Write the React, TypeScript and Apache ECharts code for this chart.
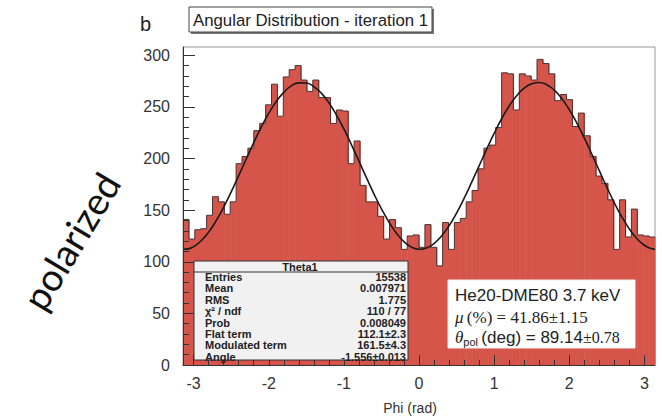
import React, { useEffect, useRef } from "react";
import * as echarts from "echarts";

// Histogram: 80 bins over [-pi, pi]
const binCounts = [
  141, 122, 131, 132, 145, 163, 158, 146, 158, 195,
  202, 210, 227, 234, 252, 272, 241, 279, 286, 290,
  276, 265, 276, 259, 259, 234, 247, 246, 195, 217,
  174, 158, 158, 144, 122, 141, 133, 112, 125, 126,
  114, 136, 114, 96, 138, 112, 138, 142, 158, 169,
  190, 210, 213, 230, 283, 282, 247, 282, 280, 276,
  296, 292, 282, 256, 262, 257, 231, 244, 222, 202,
  183, 176, 160, 112, 160, 124, 151, 126, 125, 124,
];
const histMin = -Math.PI;
const histMax = Math.PI;

// Fit curve
const fitPhi = [
  -3.1416, -3.1, -3.0, -2.9, -2.8, -2.7, -2.6, -2.5, -2.4, -2.3, -2.2, -2.1, -2.0,
  -1.9, -1.8, -1.7, -1.6, -1.5, -1.4, -1.3, -1.2, -1.1, -1.0, -0.9, -0.8, -0.7,
  -0.6, -0.5, -0.4, -0.3, -0.2, -0.1, 0.0, 0.1, 0.2, 0.3, 0.4, 0.5, 0.6, 0.7,
  0.8, 0.9, 1.0, 1.1, 1.2, 1.3, 1.4, 1.5, 1.6, 1.7, 1.8, 1.9, 2.0, 2.1, 2.2,
  2.3, 2.4, 2.5, 2.6, 2.7, 2.8, 2.9, 3.0, 3.1, 3.1416,
];
const fitValues = [
  112.1, 112.2, 114.7, 120.3, 128.7, 139.8, 152.9, 167.7, 183.4, 199.5, 215.4, 230.3, 243.9,
  255.3, 264.1, 270.4, 273.3, 273.1, 269.7, 263.3, 254.0, 242.3, 228.6, 213.5, 197.6, 181.5,
  165.8, 151.3, 138.4, 127.6, 119.5, 114.2, 112.1, 113.3, 117.6, 124.9, 134.9, 147.2, 161.4, 176.8,
  192.8, 208.9, 224.3, 238.5, 250.8, 260.8, 268.1, 272.4, 273.6, 271.5, 266.3, 258.2, 247.4, 234.6, 219.9,
  204.3, 188.2, 172.3, 157.1, 143.5, 131.8, 122.5, 116.0, 112.6, 112.1,
];

const xTickLabels = [-3, -2, -1, 0, 1, 2, 3];
const xMinorTicks = [
  -3.0, -2.8, -2.6, -2.4, -2.2, -2.0, -1.8, -1.6, -1.4, -1.2, -1.0, -0.8, -0.6, -0.4, -0.2,
  0.0, 0.2, 0.4, 0.6, 0.8, 1.0, 1.2, 1.4, 1.6, 1.8, 2.0, 2.2, 2.4, 2.6, 2.8, 3.0,
];
const yTickLabels = [0, 50, 100, 150, 200, 250, 300];
const yMinorTicks = [
  0, 10, 20, 30, 40, 50, 60, 70, 80, 90, 100, 110, 120, 130, 140, 150, 160, 170, 180, 190,
  200, 210, 220, 230, 240, 250, 260, 270, 280, 290, 300,
];
const yMax = 308;

const statsTitle = "Theta1";
const statsLabels = ["Entries", "Mean", "RMS", "χ² / ndf", "Prob", "Flat term", "Modulated term", "Angle"];
const statsValues = ["15538", "0.007971", "1.775", "110 / 77", "0.008049", "112.1±2.3", "161.5±4.3", "-1.556±0.013"];

const RED = "#D6554B";
const SANS = "'Liberation Sans', Arial, Helvetica, sans-serif";
const SERIF = "'Liberation Serif', 'Times New Roman', serif";

export default function App() {
  const ref = useRef<HTMLDivElement>(null);

  useEffect(() => {
    if (!ref.current) return;
    const chart = echarts.init(ref.current, undefined, { renderer: "svg" });
    const n = binCounts.length;
    const w = (histMax - histMin) / n;
    const bins = binCounts.map((c, i) => [histMin + i * w, histMin + (i + 1) * w, c]);
    const outline: number[][] = binCounts.map((c, i) => [histMin + i * w, c]);
    outline.push([histMax, binCounts[n - 1]]);
    const fit = fitPhi.map((p, i) => [p, fitValues[i]]);

    const graphics: any[] = [
      {
        type: "text",
        z: 50,
        x: 140,
        y: 24,
        style: { text: "b", font: `20px ${SANS}`, fill: "#222", verticalAlign: "middle" },
      },
      {
        type: "rect",
        z: 50,
        shape: { x: 191, y: 9, width: 243, height: 25 },
        style: { fill: "#777" },
      },
      {
        type: "rect",
        z: 51,
        shape: { x: 189, y: 7, width: 243, height: 25 },
        style: { fill: "#fff", stroke: "#444", lineWidth: 1 },
      },
      {
        type: "text",
        z: 52,
        x: 193,
        y: 20,
        style: { text: "Angular Distribution - iteration 1", font: `16.8px ${SANS}`, fill: "#222", verticalAlign: "middle" },
      },
      {
        type: "text",
        z: 50,
        x: 71,
        y: 241,
        rotation: (59 * Math.PI) / 180,
        style: {
          text: "polarized",
          font: `38px Lato, 'Noto Sans', sans-serif`,
          fill: "#111",
          align: "center",
          verticalAlign: "middle",
        },
      },
      {
        type: "text",
        z: 50,
        x: 410,
        y: 408,
        style: { text: "Phi (rad)", font: `14px ${SANS}`, fill: "#333", align: "center", verticalAlign: "middle" },
      },
      // stats box
      {
        type: "rect",
        z: 60,
        shape: { x: 194, y: 261, width: 214, height: 99 },
        style: { fill: "#f1f1f1", stroke: "#333", lineWidth: 1 },
      },
      {
        type: "line",
        z: 61,
        shape: { x1: 194, y1: 272, x2: 408, y2: 272 },
        style: { stroke: "#333", lineWidth: 1 },
      },
      {
        type: "text",
        z: 61,
        x: 300,
        y: 266.5,
        style: { text: statsTitle, font: `bold 11px ${SANS}`, fill: "#222", align: "center", verticalAlign: "middle" },
      },
    ];
    statsLabels.forEach((lab, i) => {
      const yy = 277 + i * 11.4;
      graphics.push({
        type: "text",
        z: 61,
        x: 205,
        y: yy,
        style: { text: lab, font: `bold 11px ${SANS}`, fill: "#222", verticalAlign: "middle" },
      });
      graphics.push({
        type: "text",
        z: 61,
        x: 406,
        y: yy,
        style: { text: statsValues[i], font: `bold 11px ${SANS}`, fill: "#222", align: "right", verticalAlign: "middle" },
      });
    });
    graphics.push(
      {
        type: "rect",
        z: 60,
        shape: { x: 448, y: 280, width: 187, height: 68 },
        style: { fill: "#fff", stroke: "#eee", lineWidth: 1 },
      },
      {
        type: "text",
        z: 61,
        x: 455,
        y: 295,
        style: { text: "He20-DME80 3.7 keV", font: `17px ${SANS}`, fill: "#222", verticalAlign: "middle" },
      },
      {
        type: "text",
        z: 61,
        x: 455,
        y: 317,
        style: {
          text: "{i|μ} {r|(%) = 41.86±1.15}",
          verticalAlign: "middle",
          rich: {
            i: { fontFamily: SERIF, fontStyle: "italic", fontSize: 17, fill: "#222" },
            r: { fontFamily: SERIF, fontSize: 17, fill: "#222" },
          },
        },
      },
      {
        type: "text",
        z: 61,
        x: 455,
        y: 337,
        style: {
          text: "{i|θ}{s|pol} {r|(deg) = 89.14}{m|±0.78}",
          verticalAlign: "middle",
          rich: {
            i: { fontFamily: SERIF, fontStyle: "italic", fontSize: 17, fill: "#222" },
            s: { fontFamily: SANS, fontSize: 11, fill: "#222", padding: [10, 0, 0, 0] },
            r: { fontFamily: SANS, fontSize: 17, fill: "#222" },
            m: { fontFamily: SERIF, fontSize: 16, fill: "#222" },
          },
        },
      }
    );

    chart.setOption({
      animation: false,
      backgroundColor: "#ffffff",
      grid: {
        left: 183,
        right: 7,
        top: 47,
        bottom: 52,
        show: true,
        borderColor: "#999",
        borderWidth: 1,
        backgroundColor: "transparent",
      },
      xAxis: [
        {
          type: "value",
          min: histMin,
          max: histMax,
          position: "bottom",
          z: 10,
          axisLine: { show: true, onZero: false, lineStyle: { color: "#333", width: 1 } },
          axisTick: { show: true, inside: true, length: 10, customValues: xTickLabels, lineStyle: { color: "#333" } },
          axisLabel: {
            customValues: xTickLabels,
            formatter: (v: number) => String(v),
            fontSize: 16,
            color: "#333",
            fontFamily: SANS,
            margin: 10,
          },
          splitLine: { show: false },
        },
        {
          type: "value",
          min: histMin,
          max: histMax,
          position: "bottom",
          z: 10,
          axisLine: { show: false, onZero: false },
          axisTick: { show: true, inside: true, length: 5, customValues: xMinorTicks, lineStyle: { color: "#333" } },
          axisLabel: { show: false },
          splitLine: { show: false },
        },
      ],
      yAxis: [
        {
          type: "value",
          min: 0,
          max: yMax,
          position: "left",
          z: 10,
          axisLine: { show: true, onZero: false, lineStyle: { color: "#333", width: 1 } },
          axisTick: { show: true, inside: true, length: 12, customValues: yTickLabels, lineStyle: { color: "#333" } },
          axisLabel: {
            customValues: yTickLabels,
            fontSize: 16,
            color: "#333",
            fontFamily: SANS,
            margin: 13,
          },
          splitLine: { show: false },
        },
        {
          type: "value",
          min: 0,
          max: yMax,
          position: "left",
          z: 10,
          axisLine: { show: false, onZero: false },
          axisTick: { show: true, inside: true, length: 6, customValues: yMinorTicks, lineStyle: { color: "#333" } },
          axisLabel: { show: false },
          splitLine: { show: false },
        },
      ],
      series: [
        {
          type: "custom",
          xAxisIndex: 0,
          yAxisIndex: 0,
          z: 2,
          data: bins,
          renderItem: (params: any, api: any) => {
            const p0 = api.coord([api.value(0), api.value(2)]);
            const p1 = api.coord([api.value(1), 0]);
            return {
              type: "rect",
              shape: { x: p0[0], y: p0[1], width: p1[0] - p0[0] + 0.6, height: p1[1] - p0[1] },
              style: { fill: RED, stroke: null },
            };
          },
        },
        {
          type: "line",
          xAxisIndex: 0,
          yAxisIndex: 0,
          z: 3,
          step: "end",
          symbol: "none",
          data: outline,
          lineStyle: { color: "#4a3332", width: 1 },
        },
        {
          type: "line",
          xAxisIndex: 0,
          yAxisIndex: 0,
          z: 4,
          smooth: true,
          symbol: "none",
          data: fit,
          lineStyle: { color: "#1a1a1a", width: 1.6 },
        },
      ],
      graphic: graphics,
    });
    return () => chart.dispose();
  }, []);

  return (
    <div
      ref={ref}
      style={{ position: "fixed", left: 0, top: 0, width: 662, height: 417, background: "#fff" }}
    />
  );
}
